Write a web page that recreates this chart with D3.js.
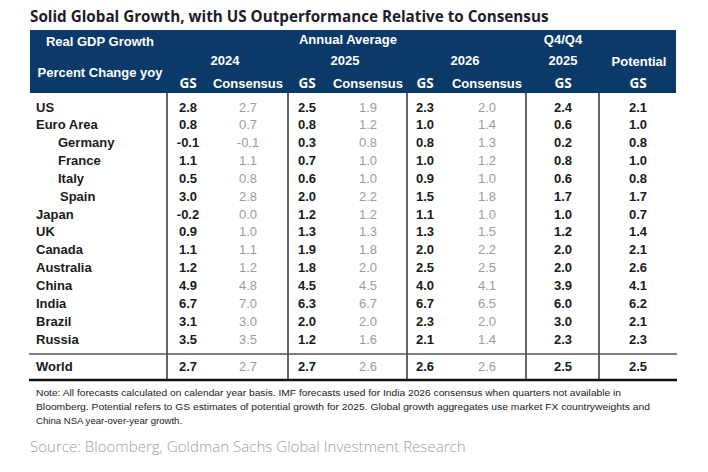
<!DOCTYPE html>
<html><head><meta charset="utf-8">
<script src="https://cdn.jsdelivr.net/npm/d3@7/dist/d3.min.js"></script>
<style>body{margin:0;background:#fff;}svg{display:block;}</style>
</head><body>
<script>
const countries = ["US","Euro Area","Germany","France","Italy","Spain","Japan","UK","Canada","Australia","China","India","Brazil","Russia","World"];
const indented = ["Germany","France","Italy","Spain"];
const gs2024 =   [2.8,0.8,-0.1,1.1,0.5,3.0,-0.2,0.9,1.1,1.2,4.9,6.7,3.1,3.5,2.7];
const cons2024 = [2.7,0.7,-0.1,1.1,0.8,2.8,0.0,1.0,1.1,1.2,4.8,7.0,3.0,3.5,2.7];
const gs2025 =   [2.5,0.8,0.3,0.7,0.6,2.0,1.2,1.3,1.9,1.8,4.5,6.3,2.0,1.2,2.7];
const cons2025 = [1.9,1.2,0.8,1.0,1.0,2.2,1.2,1.3,1.8,2.0,4.5,6.7,2.0,1.6,2.6];
const gs2026 =   [2.3,1.0,0.8,1.0,0.9,1.5,1.1,1.3,2.0,2.5,4.0,6.7,2.3,2.1,2.6];
const cons2026 = [2.0,1.4,1.3,1.2,1.0,1.8,1.0,1.5,2.2,2.5,4.1,6.5,2.0,1.4,2.6];
const q4gs2025 = [2.4,0.6,0.2,0.8,0.6,1.7,1.0,1.2,2.0,2.0,3.9,6.0,3.0,2.3,2.5];
const potential= [2.1,1.0,0.8,1.0,0.8,1.7,0.7,1.4,2.1,2.6,4.1,6.2,2.1,2.3,2.5];

const columnKeys = ["gs2024","cons2024","gs2025","cons2025","gs2026","cons2026","q4","pot"];
const columnLabels = ["GS","Consensus","GS","Consensus","GS","Consensus","GS","GS"];
const series = [gs2024,cons2024,gs2025,cons2025,gs2026,cons2026,q4gs2025,potential];
const isConsensus = [false,true,false,true,false,true,false,false];

const title = "Solid Global Growth, with US Outperformance Relative to Consensus";
const noteLines = [
 "Note: All forecasts calculated on calendar year basis. IMF forecasts used for India 2026 consensus when quarters not available in",
 "Bloomberg. Potential refers to GS estimates of potential growth for 2025. Global growth aggregates use market FX countryweights and",
 "China NSA  year-over-year growth."
];
const source = "Source: Bloomberg, Goldman Sachs Global Investment Research";

const W=708,H=472;
const NAVY="#0b3968";
const svg=d3.select("body").append("svg").attr("width",W).attr("height",H);

// Title
const t=svg.append("text").attr("x",30).attr("y",22).text(title)
  .attr("font-family","'Open Sans',sans-serif").attr("font-weight",700).attr("font-size",15).attr("fill","#1d1d2b");
const tl=t.node().getComputedTextLength(); t.attr("font-size",15*519/tl);

const left=30,right=676;
// Header box
svg.append("rect").attr("x",left).attr("y",30).attr("width",right-left).attr("height",63).attr("fill",NAVY);

const fmt=d3.formatLocale({decimal:".",thousands:",",grouping:[3],currency:["",""],minus:"-"}).format(".1f");

const x=d3.scaleOrdinal().domain(columnKeys).range([188,248,307,368,425,487,563,638]);
const rowsMain=countries.slice(0,countries.length-1);
const y=d3.scalePoint().domain(rowsMain).range([107,339]);
const yOf=c=> c==="World"?366:y(c);

const hdr=(tx,xx,yy,fam,fs)=>svg.append("text").attr("x",xx).attr("y",yy).attr("text-anchor","middle")
  .attr("font-family",fam||"'Liberation Sans',Arial,sans-serif").attr("font-weight",700).attr("font-size",fs||13).attr("fill","#fff").text(tx);
hdr("Real GDP Growth",100,45.5);
hdr("Percent Change yoy",100,76.5);
hdr("Annual Average",348,43.5);
hdr("2024",225,64.5);
hdr("2025",345,64.5);
hdr("2026",465,64.5);
hdr("Q4/Q4",563,43.5);
hdr("2025",563,64.5);
hdr("Potential",639,65.5);
columnKeys.forEach((k,i)=>{
  const g=columnLabels[i]==="GS";
  hdr(columnLabels[i],x(k),88,g?"'Open Sans',sans-serif":null,g?13.5:13);
});

// lines
const vx=[167,288,407,526,599];
svg.selectAll("line.v").data(vx).join("line").attr("x1",d=>d).attr("x2",d=>d).attr("y1",93).attr("y2",380)
  .attr("stroke","#333").attr("stroke-width",1.5);
svg.append("line").attr("x1",left-1).attr("x2",right+1).attr("y1",354).attr("y2",354).attr("stroke","#555").attr("stroke-width",1.5);
svg.append("line").attr("x1",left-1).attr("x2",right+1).attr("y1",380).attr("y2",380).attr("stroke","#111").attr("stroke-width",2.5);

// country labels
svg.selectAll("text.c").data(countries).join("text").attr("class","c")
  .attr("x",d=>indented.includes(d)?(d==="Spain"?60:58):36).attr("y",d=>yOf(d)+4.5)
  .attr("font-family","'Liberation Sans',Arial,sans-serif").attr("font-weight",700).attr("font-size",13)
  .attr("fill","#1a1a1a").text(d=>d);

// values
series.forEach((arr,ci)=>{
  svg.selectAll("text.v"+ci).data(arr).join("text").attr("class","v"+ci)
    .attr("x",x(columnKeys[ci])).attr("y",(d,i)=>yOf(countries[i])+4.5).attr("text-anchor","middle")
    .attr("font-family","'Liberation Sans',Arial,sans-serif").attr("font-weight",isConsensus[ci]?400:700)
    .attr("font-size",13).attr("fill",isConsensus[ci]?"#9c9c9c":"#1a1a1a").text(d=>fmt(d));
});

// notes
const noteW=[585,614,null];
noteLines.forEach((s,i)=>{
  const n=svg.append("text").attr("x",36).attr("y",395.5+i*14).attr("font-family","'Liberation Sans',Arial,sans-serif")
    .attr("font-size",9.6).attr("fill","#222").text(s);
  if(noteW[i]) n.attr("textLength",noteW[i]).attr("lengthAdjust","spacingAndGlyphs");
});
const src=svg.append("text").attr("x",30).attr("y",452).attr("font-family","'Open Sans',sans-serif").attr("font-weight",300)
  .attr("font-size",14.5).attr("fill","#a0a0a0").text(source);
const sl=src.node().getComputedTextLength(); src.attr("font-size",14.5*436/sl);
</script>
</body></html>
